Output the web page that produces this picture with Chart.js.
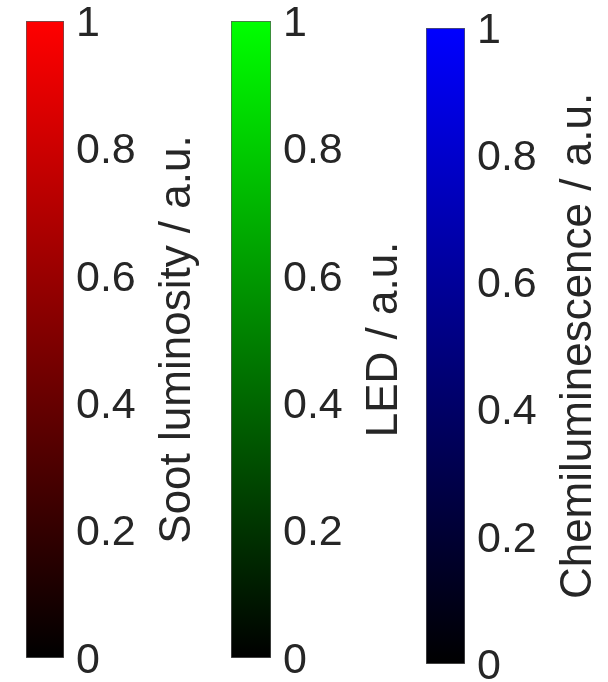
<!DOCTYPE html>
<html>
<head>
<meta charset="utf-8">
<script src="https://cdn.jsdelivr.net/npm/chart.js@4"></script>
<style>
  html, body { margin: 0; padding: 0; background: #fff; }
  #wrap { position: relative; width: 608px; height: 682px; overflow: hidden; }
  #wrap canvas { position: absolute; left: 0; top: 0; }
</style>
</head>
<body>
<div id="wrap">
  <canvas id="bar0" width="608" height="682"></canvas>
  <canvas id="bar1" width="608" height="682"></canvas>
  <canvas id="bar2" width="608" height="682"></canvas>
</div>
<script>
// les trois barres de couleur (colorbars)
const barTitles = ['Soot luminosity / a.u.', 'LED / a.u.', 'Chemiluminescence / a.u.'];
const rangeMin = [0, 0, 0];
const rangeMax = [1, 1, 1];
const tickValues = [0, 0.2, 0.4, 0.6, 0.8, 1];
const tickLabels = ['0', '0.2', '0.4', '0.6', '0.8', '1'];

// couleur du haut de chaque barre (le bas est noir)
const topColors = ['#ff0000', '#00ff00', '#0000ff'];
// boite de chaque barre : gauche, haut, droite, bas (px)
const boxes = [
  [26, 21, 64, 658],
  [231, 21, 271, 658],
  [426, 28, 465, 664]
];

const W = 608, H = 682;
const textColor = '#262626';
const fontFam = '"Liberation Sans", Arial, sans-serif';

// dessine le titre de l'axe en rotation -90 (lecture de bas en haut)
const titlePlugin = {
  id: 'cbTitle',
  afterDraw(chart) {
    const ctx = chart.ctx;
    const area = chart.chartArea;
    ctx.save();
    ctx.font = '44px ' + fontFam;
    ctx.fillStyle = textColor;
    ctx.textAlign = 'center';
    ctx.textBaseline = 'alphabetic';
    ctx.translate(area.right + 126, (area.top + area.bottom) / 2);
    ctx.rotate(-Math.PI / 2);
    ctx.fillText(chart.options.plugins.cbTitle.text, 0, 0);
    ctx.restore();
  }
};

function criarBarra(i) {
  const b = boxes[i];
  const ctx = document.getElementById('bar' + i).getContext('2d');
  return new Chart(ctx, {
    type: 'bar',
    data: {
      labels: [barTitles[i]],
      datasets: [{
        data: [[rangeMin[i], rangeMax[i]]],
        backgroundColor(c) {
          const chart = c.chart;
          const y = chart.scales.y;
          if (!y || !chart.chartArea) return topColors[i];
          const y0 = y.getPixelForValue(rangeMin[i]);
          const y1 = y.getPixelForValue(rangeMax[i]);
          if (!isFinite(y0) || !isFinite(y1)) return topColors[i];
          const g = chart.ctx.createLinearGradient(0, y0, 0, y1);
          g.addColorStop(0, '#000000');
          g.addColorStop(1, topColors[i]);
          return g;
        },
        borderColor: 'rgba(60,60,60,0.85)',
        borderWidth: 1,
        borderSkipped: false,
        barPercentage: 1,
        categoryPercentage: 1
      }]
    },
    options: {
      responsive: false,
      animation: false,
      devicePixelRatio: 1,
      layout: { padding: { left: b[0], top: b[1], right: 0, bottom: H - b[3] } },
      plugins: {
        legend: { display: false },
        tooltip: { enabled: false },
        cbTitle: { text: barTitles[i] }
      },
      scales: {
        x: { type: 'category', display: false },
        y: {
          position: 'right',
          min: rangeMin[i],
          max: rangeMax[i],
          afterBuildTicks(scale) {
            scale.ticks = tickValues.map(v => ({ value: v }));
          },
          afterFit(scale) {
            scale.width = W - b[2];
            scale.paddingTop = 0;
            scale.paddingBottom = 0;
          },
          grid: { display: false, drawTicks: false },
          border: { display: false },
          ticks: {
            padding: 12,
            labelOffset: 3,
            color: textColor,
            font: { family: fontFam, size: 43 },
            callback(v) {
              const k = tickValues.indexOf(v);
              return k >= 0 ? tickLabels[k] : '';
            }
          }
        }
      }
    },
    plugins: [titlePlugin]
  });
}

for (let i = 0; i < barTitles.length; i++) criarBarra(i);
</script>
</body>
</html>
